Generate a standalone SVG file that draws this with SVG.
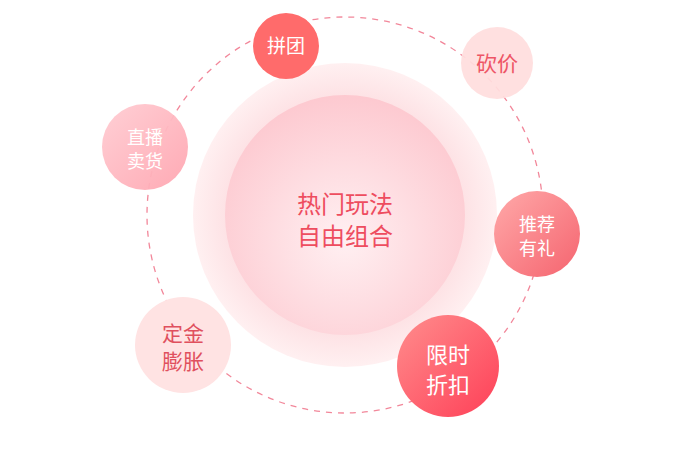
<svg xmlns="http://www.w3.org/2000/svg" width="694" height="469" viewBox="0 0 694 469">
<style>
text{font-family:"Noto Sans CJK SC",sans-serif;text-anchor:middle}
.w{fill:#fff}
.r{fill:#ee4d5f}
</style>
<defs>
<radialGradient id="ring" cx="0.5" cy="0.5" r="0.5"><stop offset="0.75" stop-color="#fde0e3"/><stop offset="1" stop-color="#fff0f1"/></radialGradient>
<radialGradient id="core" cx="0.5" cy="0.6" r="0.6"><stop offset="0" stop-color="#fff0f2"/><stop offset="1" stop-color="#fdc9d0"/></radialGradient>
<linearGradient id="g1" x1="0" y1="0" x2="1" y2="1"><stop offset="0" stop-color="#ffcdd3"/><stop offset="1" stop-color="#ffa5b0"/></linearGradient>
<linearGradient id="g2" x1="0" y1="0" x2="1" y2="1"><stop offset="0" stop-color="#ffa9a9"/><stop offset="1" stop-color="#f5646f"/></linearGradient>
<linearGradient id="g3" x1="0" y1="0" x2="1" y2="1"><stop offset="0" stop-color="#ff8d8d"/><stop offset="1" stop-color="#fe3f57"/></linearGradient>
</defs>
<g id="connectors"><circle cx="345" cy="215" r="198" fill="none" stroke="#f2879a" stroke-width="1.3" stroke-dasharray="6 6"/></g>
<g id="center">
<circle cx="345" cy="215" r="152" fill="url(#ring)"/>
<circle cx="345" cy="215" r="120" fill="url(#core)"/>
<text x="345" y="213" font-size="24" class="r">热门玩法</text>
<text x="345" y="245" font-size="24" class="r">自由组合</text>
</g>
<g id="pintuan"><circle cx="286" cy="46" r="33" fill="#ff6b6b"/><text x="286" y="53" font-size="19" class="w">拼团</text></g>
<g id="kanjia"><circle cx="497" cy="63" r="36" fill="#ffdede" fill-opacity="0.93"/><text x="497" y="71" font-size="21" fill="#ee5566">砍价</text></g>
<g id="zhibo"><circle cx="145" cy="147" r="43" fill="url(#g1)" fill-opacity="0.95"/><text x="145" y="144" font-size="18" class="w">直播</text><text x="145" y="168" font-size="18" class="w">卖货</text></g>
<g id="tuijian"><circle cx="537" cy="234" r="43" fill="url(#g2)"/><text x="537" y="231" font-size="18" class="w">推荐</text><text x="537" y="255" font-size="18" class="w">有礼</text></g>
<g id="dingjin"><circle cx="183" cy="345" r="48" fill="#ffe3e3"/><text x="183" y="341" font-size="21" fill="#e0505e">定金</text><text x="183" y="369" font-size="21" fill="#e0505e">膨胀</text></g>
<g id="xianshi"><circle cx="448" cy="366" r="51" fill="url(#g3)"/><text x="448" y="363" font-size="22" class="w">限时</text><text x="448" y="393" font-size="22" class="w">折扣</text></g>
</svg>
